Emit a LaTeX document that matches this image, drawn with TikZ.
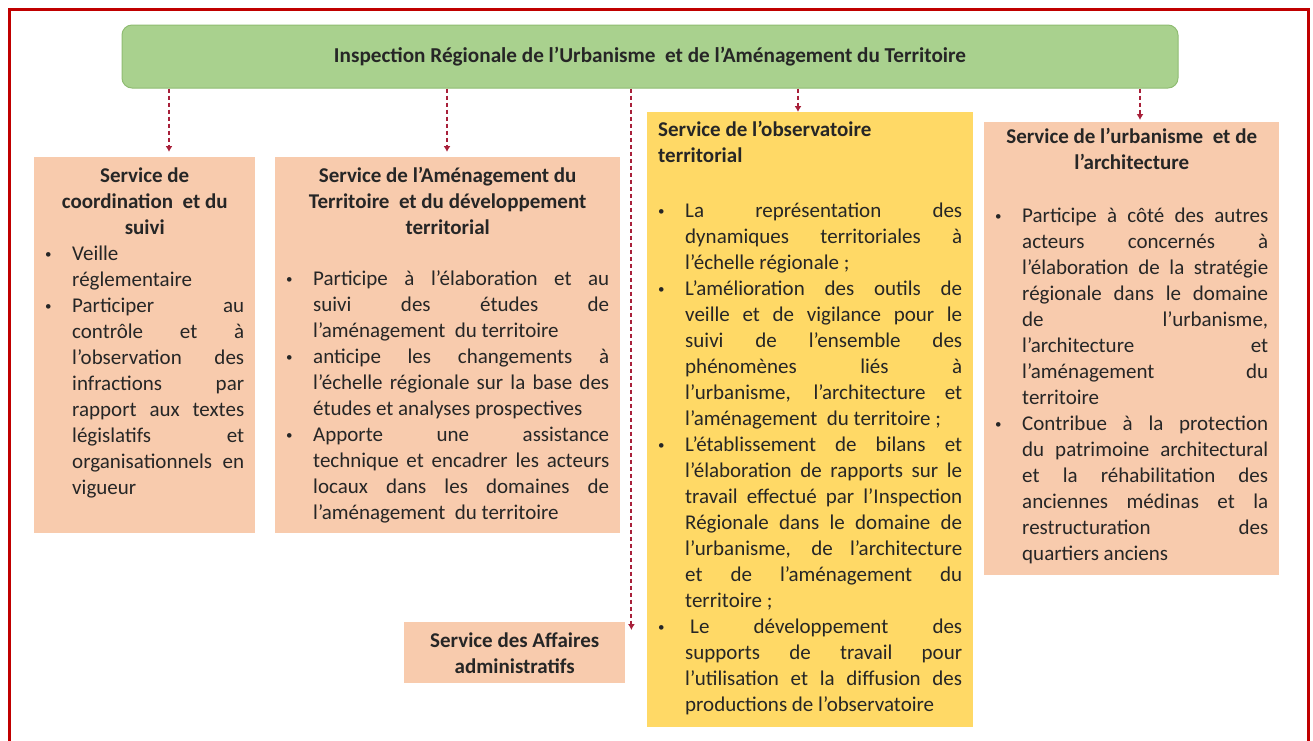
\documentclass[tikz,border=0pt]{standalone}
\usepackage{fontspec}
\setmainfont{Carlito}
\usetikzlibrary{arrows.meta,calc}

\definecolor{vertbarre}{HTML}{A9D18E}
\definecolor{bordvert}{HTML}{8FBC72}
\definecolor{saumon}{HTML}{F8CBAD}
\definecolor{jaune}{HTML}{FFD966}
\definecolor{rougefleche}{HTML}{A8203A}
\definecolor{rougecadre}{HTML}{C00000}
\definecolor{texte}{HTML}{262626}

% a small bullet with a hanging indent
\newcommand{\puce}{\par\noindent\hangindent=27pt\hangafter=1\makebox[27pt][l]{\raisebox{1.5pt}{\fontsize{13}{13}\selectfont\textbullet}}}
% box contents: width, height, first baseline, text
\newcommand{\cadre}[4]{\parbox[t][#2][t]{#1}{\fontsize{21}{26}\selectfont\tolerance=10000\hyphenpenalty=10000\rule{0pt}{#3}#4}}

\begin{document}
\begin{tikzpicture}[x=1pt,y=-1pt,
  barre/.style={rectangle, rounded corners=10pt, fill=vertbarre, draw=bordvert, line width=1pt,
    minimum width=1056pt, minimum height=63pt, text=texte, font=\fontsize{21.2}{26}\selectfont\bfseries},
  svc/.style={rectangle, fill=saumon, anchor=north west, inner xsep=11pt, inner ysep=0pt, text=texte},
  fleche/.style={draw=rougefleche, line width=2.1pt, dash pattern=on 4.5pt off 2.5pt,
    -{Latex[length=6pt,width=7pt]}}]

\useasboundingbox (0,0) rectangle (1313,740);

% the red frame
\draw[rougecadre, line width=3.5pt] (9.5,9.5) rectangle (1308.5,770);

% the title bar
\node[barre] (ir) at (650,56.5) {Inspection Régionale de l’Urbanisme\ \ et de l’Aménagement du Territoire};

% the services
\node[svc] (coord) at (34,157) {\cadre{199pt}{376pt}{25pt}{%
  {\centering\bfseries Service de\\ coordination\ \ et du\\ suivi\par}
  \puce Veille\\ réglementaire
  \puce Participer au\linebreak
  contrôle et à\linebreak
  l’observation des\linebreak
  infractions par\linebreak
  rapport aux textes\linebreak
  législatifs et\linebreak
  organisationnels en\linebreak
  vigueur}};

\node[svc] (amenag) at (275,157) {\cadre{323pt}{376pt}{25pt}{%
  {\centering\bfseries Service de l’Aménagement du\\ Territoire\ \ et du développement\\ territorial\par}
  \vspace{25pt}
  \puce Participe à l’élaboration et au\linebreak
  suivi des études de\linebreak
  l’aménagement\ \ du territoire
  \puce anticipe les changements à\linebreak
  l’échelle régionale sur la base des\linebreak
  études et analyses prospectives
  \puce Apporte une assistance\linebreak
  technique et encadrer les acteurs\linebreak
  locaux dans les domaines de\linebreak
  l’aménagement\ \ du territoire}};

\node[svc, fill=jaune] (obs) at (647,112) {\cadre{304pt}{615pt}{24pt}{%
  {\raggedright\bfseries Service de l’observatoire\\ territorial\par}
  \vspace{29pt}
  \puce La représentation des\linebreak
  dynamiques territoriales à\linebreak
  l’échelle régionale ;
  \puce L’amélioration des outils de\linebreak
  veille et de vigilance pour le\linebreak
  suivi de l’ensemble des\linebreak
  phénomènes liés à\linebreak
  l’urbanisme, l’architecture et\linebreak
  l’aménagement\ \ du territoire ;
  \puce L’établissement de bilans et\linebreak
  l’élaboration de rapports sur le\linebreak
  travail effectué par l’Inspection\linebreak
  Régionale dans le domaine de\linebreak
  l’urbanisme, de l’architecture\linebreak
  et de l’aménagement du\linebreak
  territoire ;
  \puce \hspace*{5pt}Le développement des\linebreak
  supports de travail pour\linebreak
  l’utilisation et la diffusion des\linebreak
  productions de l’observatoire}};

\node[svc] (urba) at (984,122) {\cadre{273pt}{453pt}{21pt}{%
  {\centering\bfseries Service de l’urbanisme\ \ et de\\ l’architecture\par}
  \vspace{27pt}
  \puce Participe à côté des autres\linebreak
  acteurs concernés à\linebreak
  l’élaboration de la stratégie\linebreak
  régionale dans le domaine\linebreak
  de l’urbanisme,\linebreak
  l’architecture et\linebreak
  l’aménagement du\linebreak
  territoire
  \puce Contribue à la protection\linebreak
  du patrimoine architectural\linebreak
  et la réhabilitation des\linebreak
  anciennes médinas et la\linebreak
  restructuration des\linebreak
  quartiers anciens}};

\node[svc] (admin) at (404,622) {\cadre{199pt}{61pt}{25pt}{%
  \centering\bfseries Service des Affaires\\ administratifs}};

% the dashed arrows
\foreach \x/\cible/\ecart in {169/coord/5, 447/amenag/5, 798/obs/0, 1140/urba/2}
  \draw[fleche, shorten >=\ecart pt] (\x,0 |- ir.south) -- (\x,0 |- \cible.north);
\coordinate (f3) at ($(admin.north east)+(6,8)$);
\draw[fleche] (f3 |- ir.south) -- (f3);

\end{tikzpicture}
\end{document}
